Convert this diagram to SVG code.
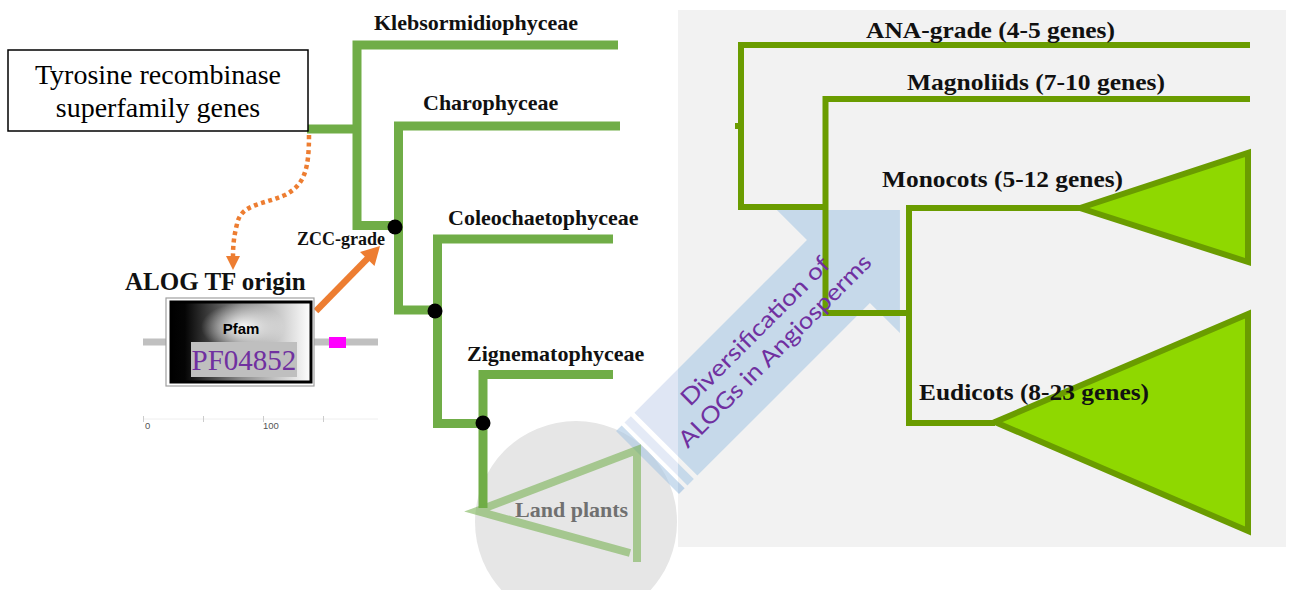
<svg xmlns="http://www.w3.org/2000/svg" width="1294" height="590" viewBox="0 0 1294 590">
<defs>
<style>
.lbl{font-family:"Liberation Serif","Times New Roman",serif;font-weight:bold;fill:#111}
.lg{fill:none;stroke:#70ad47;stroke-width:9;stroke-linecap:butt;stroke-linejoin:miter}
.rg{fill:none;stroke:#6a9c00;stroke-width:6;stroke-linejoin:miter}
.tri{fill:#8fd800;stroke:#6a9c00;stroke-width:6;stroke-linejoin:miter}
.dot{fill:#000}
.orange{stroke:#ed7d31;fill:none}
</style>
<linearGradient id="pfamGrad" x1="0" y1="0" x2="1" y2="0">
<stop offset="0" stop-color="#000"/>
<stop offset="0.1" stop-color="#050505"/>
<stop offset="0.5" stop-color="#8a8a8a"/>
<stop offset="1" stop-color="#ffffff"/>
</linearGradient>
<radialGradient id="glow" cx="0.5" cy="0.5" r="0.5">
<stop offset="0" stop-color="#fff" stop-opacity="0.95"/>
<stop offset="1" stop-color="#fff" stop-opacity="0"/>
</radialGradient>
<clipPath id="inPanel"><rect x="678" y="10" width="610" height="537"/></clipPath>
<clipPath id="outPanel"><rect x="0" y="0" width="678" height="590"/></clipPath>
<path id="arrowShape" d="M26,-44.5 L270,-44.5 L270,-87 L357,0 L270,87 L270,44.5 L26,44.5 Z"/>
</defs>
<rect width="1294" height="590" fill="#fff"/>

<!-- gray panel -->
<rect id="angiosperm-panel" x="678" y="10" width="608" height="537" fill="#f2f2f2"/>

<!-- land plants circle -->
<circle cx="576" cy="522" r="101" fill="#e6e6e6"/>

<!-- blue block arrow -->
<g id="diversification-arrow">
<g transform="translate(647.5,462.5) rotate(-45)">
<g clip-path="url(#inPanel)">
<use href="#arrowShape" fill="#c6d9ea" transform="rotate(45) translate(-647.5,-462.5)" style="display:none"/>
</g>
</g>
<g clip-path="url(#inPanel)">
<g transform="translate(647.5,462.5) rotate(-45)">
<use href="#arrowShape" fill="#c6d9ea"/>
<rect x="12" y="-44.5" width="9" height="89" fill="#c6d9ea"/>
<rect x="0" y="-44.5" width="8" height="89" fill="#bcd1e6"/>
</g>
</g>
<g clip-path="url(#outPanel)">
<g transform="translate(647.5,462.5) rotate(-45)">
<use href="#arrowShape" fill="#dfe6f4"/>
<rect x="12" y="-44.5" width="9" height="89" fill="#dfe6f4" fill-opacity="0.85"/>
<rect x="0" y="-44.5" width="8" height="89" fill="#a9c6e2" fill-opacity="0.6"/>
</g>
</g>
</g>

<!-- connectors: left tree -->
<g id="connectors">
<g id="left-tree">
<line class="lg" x1="307" y1="129" x2="357" y2="129"/>
<polyline class="lg" points="618,45 357,45 357,225.5 395,225.5"/>
<polyline class="lg" points="620,126 398.5,126 398.5,310 435,310"/>
<polyline class="lg" points="613,239 437.5,239 437.5,423.5 483,423.5"/>
<polyline class="lg" points="613,374.5 483,374.5 483,508"/>
</g>
<g id="land-plants-triangle">
<polyline points="630,553 477,511 637,450 637,562" fill="none" stroke="#70ad47" stroke-opacity="0.55" stroke-width="8" stroke-linejoin="miter"/>
</g>
<g id="right-tree">
<polyline class="rg" points="1250,45 741,45 741,207 825,207"/>
<line class="rg" x1="735" y1="126" x2="741" y2="126"/>
<polyline class="rg" points="1250,99 825.5,99 825.5,313 909,313"/>
<polyline class="rg" points="1080,208 909,208 909,423 995,423"/>
</g>
<g id="orange-arrows">
<path class="orange" d="M309,135 C309,168 305,185 285,195 C262,205 241,204 237,224 C234,236 233,245 233,256" stroke-width="4.5" stroke-dasharray="4 3.5"/>
<polygon points="226,256 240,256 233,270" fill="#ed7d31"/>
<line class="orange" x1="316" y1="311" x2="368" y2="258" stroke-width="6.5"/>
<polygon points="380,246 374.5,266 360,252" fill="#ed7d31"/>
</g>
</g>

<!-- internal node dots -->
<g id="nodes-dots">
<circle class="dot" cx="395" cy="227" r="7.5"/>
<circle class="dot" cx="435" cy="311" r="7.5"/>
<circle class="dot" cx="483" cy="423" r="7.5"/>
</g>

<!-- right clades -->
<g id="monocots">
<polygon class="tri" points="1080,208 1248,153 1248,262"/>
<text class="lbl" x="882" y="187" font-size="24" textLength="241" lengthAdjust="spacingAndGlyphs">Monocots (5-12 genes)</text>
</g>
<g id="eudicots">
<polygon class="tri" points="995,422 1248,314 1248,531"/>
<text class="lbl" x="919" y="400" font-size="24" textLength="230" lengthAdjust="spacingAndGlyphs">Eudicots (8-23 genes)</text>
</g>
<g id="ana-grade">
<text class="lbl" x="866" y="38" font-size="24" textLength="249" lengthAdjust="spacingAndGlyphs">ANA-grade (4-5 genes)</text>
</g>
<g id="magnoliids">
<text class="lbl" x="907" y="90" font-size="24" textLength="258" lengthAdjust="spacingAndGlyphs">Magnoliids (7-10 genes)</text>
</g>

<!-- left clades -->
<g id="klebsormidiophyceae"><text class="lbl" x="374" y="30" font-size="22">Klebsormidiophyceae</text></g>
<g id="charophyceae"><text class="lbl" x="423" y="110" font-size="22">Charophyceae</text></g>
<g id="coleochaetophyceae"><text class="lbl" x="448" y="225" font-size="22">Coleochaetophyceae</text></g>
<g id="zignematophyceae"><text class="lbl" x="467" y="361" font-size="22">Zignematophyceae</text></g>
<g id="zcc-grade"><text class="lbl" x="297" y="245" font-size="18">ZCC-grade</text></g>
<g id="land-plants"><text x="515" y="517" font-size="22" font-family="Liberation Serif, Times New Roman, serif" font-weight="bold" fill="#707070">Land plants</text></g>

<!-- tyrosine box -->
<g id="tyrosine-box">
<rect x="8" y="50" width="300" height="81" fill="#fff" stroke="#000" stroke-width="1.5"/>
<text x="158" y="84" font-size="28" text-anchor="middle" font-family="Liberation Serif, Times New Roman, serif" fill="#000">Tyrosine recombinase</text>
<text x="158" y="117" font-size="28" text-anchor="middle" font-family="Liberation Serif, Times New Roman, serif" fill="#000">superfamily genes</text>
</g>

<!-- ALOG origin -->
<g id="alog-origin">
<text class="lbl" x="125" y="290" font-size="25" fill="#000">ALOG TF origin</text>
<line x1="143" y1="342" x2="378" y2="342" stroke="#c0c0c0" stroke-width="7"/>
<rect x="329" y="337" width="17" height="11" fill="#ff00ff"/>
<rect x="166" y="298" width="148" height="88" fill="#fff" stroke="#a0a0a0" stroke-width="1.2"/>
<rect x="171" y="302" width="140" height="80" fill="url(#pfamGrad)" stroke="#000" stroke-width="3"/>
<ellipse cx="243" cy="327" rx="42" ry="24" fill="url(#glow)"/>
<text x="241" y="334" font-size="15" text-anchor="middle" font-family="Liberation Sans, Arial, sans-serif" font-weight="bold" fill="#000">Pfam</text>
<rect x="191" y="342" width="106" height="35" fill="#bfbfbf"/>
<text x="244" y="370" font-size="29" text-anchor="middle" font-family="Liberation Serif, Times New Roman, serif" fill="#7030a0">PF04852</text>
<line x1="143" y1="419" x2="378" y2="419" stroke="#eeeeee" stroke-width="1"/>
<g stroke="#cccccc" stroke-width="1">
<line x1="143.5" y1="416" x2="143.5" y2="422"/>
<line x1="203.5" y1="416" x2="203.5" y2="422"/>
<line x1="263.5" y1="416" x2="263.5" y2="422"/>
<line x1="323.5" y1="416" x2="323.5" y2="422"/>
</g>
<text x="145" y="429" font-size="9.5" font-family="Liberation Sans, Arial, sans-serif" fill="#555">0</text>
<text x="263" y="429" font-size="9.5" font-family="Liberation Sans, Arial, sans-serif" fill="#555">100</text>
</g>

<!-- arrow text -->
<g id="arrow-label" transform="translate(647.5,462.5) rotate(-45)">
<text x="169" y="-9" font-size="23" text-anchor="middle" font-family="Lato, Open Sans, sans-serif" fill="#7030a0" textLength="200" lengthAdjust="spacingAndGlyphs">Diversification of</text>
<text x="169" y="19" font-size="23" text-anchor="middle" font-family="Lato, Open Sans, sans-serif" fill="#7030a0" textLength="262" lengthAdjust="spacingAndGlyphs">ALOGs in Angiosperms</text>
</g>
</svg>
